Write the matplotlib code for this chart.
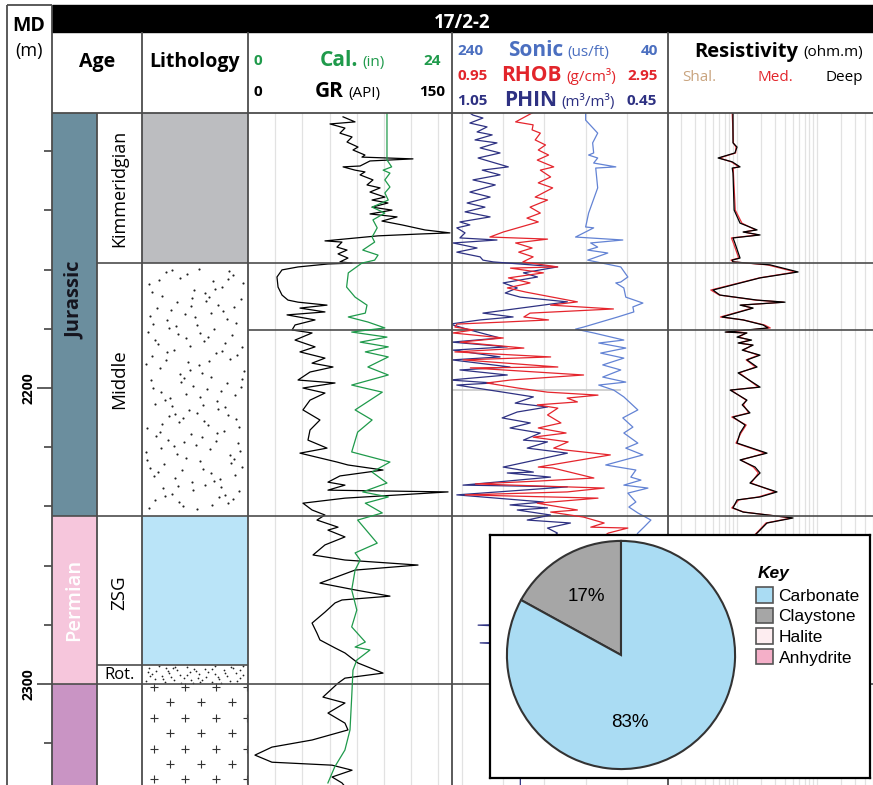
import numpy as np
import matplotlib
matplotlib.use("Agg")
import matplotlib.pyplot as plt
from matplotlib.patches import Patch, Rectangle
from matplotlib.ticker import MultipleLocator

plt.rcParams['font.family'] = ['Open Sans', 'DejaVu Sans']

# depth window and tops (m MD)
TOP, BOT = 2107.1, 2334.1
KIM_BASE = 2157.8
MID_LINE = 2180.4
JUR_BASE = 2243.2
ZSG_BASE = 2293.6
PERM_BASE = 2300.0

# GR (API)
gr_depth = [2108.4, 2110.1, 2110.8, 2112.2, 2113.9, 2115.2, 2116.9, 2118.6, 2119.6, 2121.3,
            2122.0, 2122.6, 2123.3, 2125.0, 2125.3, 2126.4, 2127.0, 2128.0, 2129.7, 2131.4,
            2132.4, 2133.8, 2135.5, 2136.5, 2137.5, 2138.9, 2139.9, 2141.2, 2142.2, 2143.6,
            2144.9, 2146.6, 2147.6, 2148.0, 2148.6, 2150.3, 2150.7, 2152.4, 2153.4, 2154.7,
            2156.1, 2157.4, 2157.8, 2158.1, 2159.1, 2160.1, 2162.5, 2165.9, 2168.6, 2170.3,
            2171.0, 2172.0, 2173.0, 2174.3, 2175.3, 2177.0, 2178.7, 2180.4, 2181.4, 2183.8,
            2186.1, 2187.8, 2189.9, 2191.6, 2192.9, 2194.6, 2197.3, 2198.3, 2200.0, 2201.7,
            2204.1, 2207.4, 2210.8, 2214.2, 2217.6, 2220.3, 2222.0, 2225.0, 2226.0, 2227.7,
            2229.7, 2231.8, 2232.8, 2234.5, 2235.1, 2237.2, 2238.9, 2241.2, 2242.9, 2244.6,
            2247.0, 2248.0, 2250.3, 2253.0, 2256.4, 2258.1, 2259.8, 2261.5, 2265.9, 2268.2,
            2270.3, 2271.6, 2272.6, 2275.7, 2279.4, 2282.8, 2285.1, 2287.8, 2289.5, 2292.9,
            2296.3, 2298.0, 2299.7, 2304.4, 2306.4, 2309.8, 2313.2, 2315.5, 2318.9, 2321.3,
            2324.0, 2326.4, 2327.4, 2329.1, 2331.4, 2333.4, 2335.0]
gr = [69.9, 78.7, 60.3, 71.3, 67.6, 76.5, 72.8, 80.9, 77.2, 86.0,
      83.8, 121.3, 89.7, 82.4, 69.9, 78.7, 86.0, 82.4, 91.9, 87.5,
      97.1, 89.7, 100.7, 91.2, 102.9, 91.2, 105.9, 89.7, 109.6, 98.5,
      113.2, 130.1, 148.5, 125.0, 95.6, 56.6, 69.1, 65.4, 72.8, 66.2,
      73.5, 67.6, 76.5, 58.8, 36.8, 25.0, 21.3, 22.1, 25.0, 29.4,
      36.8, 58.1, 38.2, 56.6, 28.7, 49.3, 34.6, 32.4, 47.1, 34.6,
      49.3, 38.2, 56.6, 47.1, 62.5, 45.6, 36.8, 64.0, 40.4, 56.6,
      45.6, 40.4, 52.9, 45.6, 44.1, 58.1, 38.2, 65.4, 73.5, 99.3,
      67.6, 58.8, 71.3, 58.8, 147.1, 71.3, 40.4, 47.1, 56.6, 50.7,
      66.2, 58.8, 71.3, 56.6, 47.8, 71.3, 125.0, 78.7, 52.9, 78.7,
      104.4, 69.1, 64.0, 56.6, 47.1, 50.7, 52.9, 64.0, 71.3, 80.9,
      99.3, 71.3, 66.2, 55.1, 71.3, 58.8, 71.3, 73.5, 47.1, 17.6,
      5.1, 17.6, 61.8, 76.5, 61.8, 69.1, 72.0]

# caliper (in)
cal_depth = [2107.1, 2123.0, 2123.6, 2125.3, 2126.4, 2127.4, 2129.7, 2132.1, 2134.1, 2136.5,
             2138.9, 2140.9, 2143.2, 2145.9, 2149.0, 2150.7, 2153.4, 2155.1, 2156.8, 2157.8,
             2161.1, 2165.9, 2169.3, 2172.0, 2174.7, 2176.0, 2177.7, 2179.7, 2181.1, 2182.8,
             2184.5, 2186.1, 2187.8, 2189.5, 2192.9, 2195.6, 2199.0, 2201.4, 2207.4, 2210.8,
             2214.9, 2221.6, 2225.0, 2228.4, 2232.1, 2235.1, 2236.8, 2238.9, 2242.2, 2244.6,
             2252.4, 2255.7, 2258.1, 2261.5, 2268.2, 2275.0, 2280.7, 2285.8, 2287.5, 2288.5,
             2291.9, 2295.3, 2304.4, 2315.5, 2322.3, 2328.0, 2333.4]
cal = [16.35, 16.35, 16.5, 16.9, 15.9, 16.7, 16.1, 16.7, 16.1, 16.5,
       14.6, 16.1, 14.7, 15.2, 14.6, 14.9, 13.5, 15.3, 14.9, 13.4,
       11.8, 11.6, 12.6, 14.0, 13.8, 11.8, 14.1, 16.1, 12.2, 16.35,
       13.2, 16.5, 13.8, 16.5, 14.1, 16.5, 12.2, 15.8, 12.6, 14.6,
       12.9, 12.2, 16.7, 14.6, 16.35, 13.5, 16.5, 13.8, 15.8, 12.9,
       15.2, 12.6, 13.2, 12.6, 12.2, 12.8, 12.2, 13.8, 12.6, 14.35,
       12.8, 12.35, 12.2, 12.0, 11.4, 10.2, 9.4]

# sonic (us/ft)
dt_depth = [2107.1, 2109.5, 2113.9, 2117.2, 2120.6, 2121.3, 2122.3, 2124.0, 2125.3, 2125.7,
            2132.4, 2140.9, 2145.6, 2145.9, 2149.0, 2150.0, 2151.0, 2152.4, 2153.4, 2154.4,
            2156.8, 2159.1, 2162.5, 2164.2, 2164.5, 2166.2, 2169.3, 2171.3, 2172.6, 2174.3,
            2176.0, 2179.4, 2180.1, 2181.4, 2183.8, 2184.8, 2186.5, 2188.2, 2189.9, 2192.2,
            2193.9, 2196.3, 2198.0, 2199.0, 2200.7, 2203.0, 2207.4, 2210.1, 2213.2, 2215.2,
            2218.6, 2220.3, 2222.6, 2226.0, 2227.7, 2230.1, 2231.1, 2232.8, 2233.8, 2235.5,
            2238.5, 2240.2, 2242.2, 2244.6, 2247.0, 2249.0, 2253.0]
dt = [120.0, 120.0, 108.3, 113.2, 112.2, 117.1, 108.3, 112.2, 90.7, 110.2,
      108.3, 117.1, 120.0, 112.2, 129.8, 83.9, 115.1, 108.3, 118.0, 98.5,
      118.0, 85.9, 79.0, 85.9, 90.7, 82.9, 81.0, 64.4, 74.1, 73.2,
      88.8, 121.9, 129.8, 112.2, 82.9, 107.3, 81.0, 105.4, 82.9, 103.4,
      85.9, 103.4, 81.0, 107.3, 92.7, 82.9, 69.3, 83.9, 74.1, 82.9,
      69.3, 81.0, 64.4, 100.5, 71.2, 76.1, 66.3, 82.9, 59.5, 79.0,
      71.2, 78.0, 69.3, 56.6, 63.4, 69.3, 76.1]

# bulk density (g/cm3)
rho_depth = [2107.1, 2110.1, 2111.1, 2112.8, 2113.9, 2116.2, 2117.9, 2119.6, 2121.3, 2123.0,
             2125.3, 2126.4, 2128.7, 2130.7, 2132.4, 2135.5, 2136.5, 2138.9, 2140.9, 2142.6,
             2143.9, 2145.9, 2147.3, 2149.0, 2149.7, 2151.0, 2152.7, 2154.1, 2155.7, 2157.4,
             2159.1, 2159.5, 2161.1, 2162.8, 2164.5, 2166.2, 2167.6, 2170.9, 2172.0, 2173.3,
             2174.7, 2176.0, 2177.0, 2177.7, 2178.4, 2179.4, 2180.4, 2181.4, 2183.1, 2184.5,
             2186.5, 2187.8, 2189.5, 2190.5, 2192.9, 2193.2, 2195.6, 2197.3, 2198.3, 2200.0,
             2201.4, 2202.4, 2203.4, 2204.7, 2205.7, 2206.8, 2209.1, 2211.8, 2213.5, 2215.2,
             2216.6, 2218.2, 2220.3, 2220.9, 2222.6, 2226.7, 2227.0, 2230.4, 2231.4, 2232.4,
             2233.8, 2235.1, 2236.1, 2237.2, 2238.9, 2241.2, 2241.9, 2243.6, 2245.6, 2247.0,
             2247.3, 2249.0, 2253.0]
rho = [1.63, 1.47, 1.64, 1.63, 1.71, 1.66, 1.76, 1.69, 1.79, 1.68,
       1.84, 1.71, 1.81, 1.69, 1.83, 1.66, 1.78, 1.61, 1.71, 1.58,
       1.69, 1.49, 1.35, 1.22, 1.78, 1.47, 1.63, 1.50, 1.64, 1.54,
       1.88, 1.42, 1.74, 1.40, 1.61, 1.39, 1.57, 2.07, 1.81, 2.42,
       1.61, 1.55, 1.79, 1.37, 0.90, 0.88, 1.06, 0.86, 1.35, 0.93,
       1.55, 0.88, 1.81, 0.96, 1.88, 1.03, 2.13, 1.42, 1.19, 1.49,
       1.78, 2.27, 1.97, 2.07, 1.68, 1.88, 1.78, 1.91, 1.69, 1.96,
       1.64, 1.98, 1.84, 1.94, 2.39, 1.69, 1.83, 2.23, 1.71, 1.08,
       2.33, 1.97, 0.98, 2.27, 1.68, 2.07, 1.81, 2.13, 2.33, 2.20,
       2.56, 2.37, 2.20]

# neutron porosity (m3/m3)
phi_depth = [2107.1, 2107.8, 2108.8, 2110.5, 2111.8, 2113.5, 2114.5, 2116.2, 2117.2, 2118.9,
             2120.6, 2122.3, 2125.3, 2126.4, 2128.0, 2129.7, 2131.4, 2133.8, 2135.5, 2137.5,
             2138.9, 2140.5, 2142.2, 2143.9, 2144.9, 2145.9, 2147.6, 2149.3, 2150.0, 2151.0,
             2152.7, 2154.1, 2155.7, 2156.8, 2157.4, 2159.1, 2160.1, 2161.1, 2162.5, 2164.5,
             2166.2, 2167.9, 2169.3, 2170.9, 2174.7, 2176.0, 2177.0, 2178.4, 2180.4, 2183.1,
             2184.5, 2186.1, 2187.2, 2189.5, 2190.5, 2192.9, 2193.9, 2195.6, 2197.3, 2198.3,
             2199.0, 2201.4, 2203.0, 2205.1, 2206.4, 2208.1, 2210.1, 2211.8, 2213.5, 2215.2,
             2217.6, 2218.2, 2220.3, 2222.0, 2226.7, 2228.4, 2228.7, 2230.1, 2232.8, 2233.4,
             2236.1, 2238.5, 2239.5, 2240.5, 2241.2, 2242.9, 2244.6, 2245.6, 2247.3, 2249.0,
             2258.1, 2271.6, 2279.7, 2280.1, 2280.7, 2285.8, 2286.1, 2286.8, 2305.4, 2335.0]
phi = [1.027, 1.018, 0.989, 1.027, 0.977, 1.006, 0.962, 1.012, 0.948, 0.997,
       0.939, 1.003, 0.915, 0.991, 0.939, 1.018, 0.953, 1.027, 0.968, 1.035,
       0.983, 1.041, 0.968, 1.056, 1.027, 1.065, 1.041, 1.056, 0.948, 1.076,
       1.006, 1.065, 0.997, 0.989, 0.959, 0.772, 0.822, 0.871, 0.830, 0.930,
       0.889, 0.924, 0.880, 0.743, 0.989, 0.901, 0.997, 1.085, 1.027, 0.939,
       1.079, 0.918, 1.076, 0.939, 1.079, 0.910, 1.056, 0.918, 1.085, 0.959,
       1.065, 0.930, 0.842, 0.895, 0.801, 0.889, 0.933, 0.851, 0.910, 0.822,
       0.871, 0.801, 0.860, 0.743, 0.930, 0.842, 0.918, 0.792, 1.047, 0.743,
       1.065, 0.813, 0.910, 0.801, 0.889, 0.792, 0.860, 0.734, 0.801, 0.772,
       0.880, 0.910, 0.880, 1.003, 0.880, 0.880, 0.997, 0.880, 0.880, 0.880]

# resistivity (ohm.m)
res_depth = [2107.1, 2117.2, 2118.6, 2120.6, 2122.3, 2123.6, 2125.3, 2125.7, 2127.4, 2139.9,
             2144.3, 2146.6, 2147.3, 2148.3, 2149.3, 2151.0, 2156.1, 2156.8, 2157.4, 2158.4,
             2160.8, 2162.8, 2166.9, 2168.6, 2170.3, 2171.0, 2172.0, 2173.0, 2176.0, 2177.0,
             2178.7, 2179.7, 2181.1, 2181.4, 2182.8, 2183.8, 2184.8, 2185.5, 2187.2, 2188.9,
             2190.5, 2192.9, 2194.9, 2199.7, 2200.7, 2204.1, 2205.7, 2208.4, 2209.8, 2212.5,
             2215.2, 2218.6, 2222.0, 2224.3, 2226.7, 2228.7, 2232.1, 2235.1, 2236.8, 2237.8,
             2240.5, 2241.9, 2243.9, 2245.6, 2248.0, 2249.7]
res_deep = [0.89, 0.89, 1.0, 0.94, 0.58, 0.87, 1.09, 0.87, 0.89, 0.92,
            1.09, 1.78, 1.19, 1.94, 0.89, 0.94, 1.09, 0.87, 0.89, 2.59,
            5.8, 1.94, 0.5, 0.61, 1.78, 3.98, 1.09, 1.59, 0.65, 1.19,
            2.11, 2.44, 0.71, 1.33, 1.0, 1.52, 1.03, 1.59, 1.16, 1.94,
            1.33, 1.78, 1.03, 1.94, 0.82, 1.33, 1.16, 1.45, 0.89, 1.26,
            1.09, 1.0, 2.37, 1.09, 1.68, 1.94, 1.45, 3.16, 1.94, 1.0,
            0.89, 1.19, 5.01, 2.37, 1.94, 1.68]
res_med = [0.87, 0.9, 0.97, 0.96, 0.6, 0.85, 1.05, 0.9, 0.9, 0.95,
           1.15, 1.7, 1.22, 1.85, 0.85, 0.9, 1.05, 0.84, 0.9, 2.4,
           5.4, 1.9, 0.47, 0.6, 1.7, 3.8, 1.12, 1.55, 0.62, 1.2,
           2.2, 2.6, 0.74, 1.3, 1.05, 1.45, 1.06, 1.55, 1.2, 1.85,
           1.3, 1.7, 1.07, 1.85, 0.84, 1.3, 1.2, 1.4, 0.86, 1.3,
           1.12, 0.97, 2.25, 1.12, 1.6, 1.85, 1.5, 3.0, 1.85, 1.05,
           0.86, 1.22, 4.8, 2.3, 1.9, 1.65]

# pie: ZSG lithology split
lith_names = ['Carbonate', 'Claystone', 'Halite', 'Anhydrite']
lith_colors = ['#aadcf3', '#a6a6a6', '#fdedf0', '#f4afc8']
pie_labels = ['Claystone', 'Carbonate']
pie_vals = [17, 83]

GREEN = '#1f9a4b'
SON_BLUE = '#4b6fc0'
RED = '#e2252b'
NAVY = '#2e3182'
TAN = '#c9a47f'
LINE = '#4d4d4d'
GRID = '#e2e2e2'

W, H = 873, 785
fig = plt.figure(figsize=(W / 100, H / 100), dpi=100)


def px_axes(x0, y0, x1, y1):
    return fig.add_axes([x0 / W, 1 - y1 / H, (x1 - x0) / W, (y1 - y0) / H])


def track(x0, x1):
    ax = px_axes(x0, 113, x1, H)
    ax.set_ylim(BOT, TOP)
    ax.set_xlim(0, 1)
    for s in ax.spines.values():
        s.set_visible(False)
    ax.set_xticks([])
    ax.tick_params(axis='both', which='both', length=0, labelleft=False, labelbottom=False)
    return ax


def twin(ax, lim):
    t = ax.twiny()
    t.set_xlim(*lim)
    for s in t.spines.values():
        s.set_visible(False)
    t.set_xticks([])
    t.tick_params(axis='x', which='both', length=0, labeltop=False)
    return t


def tops(ax, depths):
    for d in depths:
        ax.axhline(d, color=LINE, lw=1.2, zorder=5)


def halton(i, base):
    f, r = 1.0, np.zeros(len(i))
    i = i.copy()
    while np.any(i > 0):
        f /= base
        r += f * (i % base)
        i //= base
    return r


def speckle(ax, d0, d1, n, size, skip=20):
    # sand texture: Halton (2,3) dot layout
    i = np.arange(skip, skip + n)
    u, v = halton(i, 2), halton(i, 3)
    ax.scatter(0.03 + 0.94 * u, d0 + (d1 - d0) * (0.02 + 0.96 * v), s=size, c='#222', lw=0)


# era column + depth ticks
ax_era = track(52, 97)
ax_era.axhspan(TOP, JUR_BASE, color='#6b8e9e', lw=0)
ax_era.axhspan(JUR_BASE, PERM_BASE, color='#f6c6dc', lw=0)
ax_era.axhspan(PERM_BASE, BOT, color='#c994c4', lw=0)
tops(ax_era, [JUR_BASE, PERM_BASE])
ax_era.set_yticks([2200, 2300], labels=['2200', '2300'], fontsize=10,
                  fontweight='bold', rotation=90, va='center')
ax_era.yaxis.set_minor_locator(MultipleLocator(20))
ax_era.tick_params(axis='y', which='major', left=True, labelleft=True,
                   length=11, width=1.1, color='#333', pad=1)
ax_era.tick_params(axis='y', which='minor', left=True, length=6, width=1.1, color='#333')
yx = ax_era.get_yaxis_transform()
ax_era.text(0.5, 2170.5, 'Jurassic', rotation=90, ha='center', va='center',
            fontsize=14.5, fontweight='bold', color='#15151f', transform=yx)
ax_era.text(0.5, 2271.6, 'Permian', rotation=90, ha='center', va='center',
            fontsize=14.5, fontweight='semibold', color='white', transform=yx)

# stage column
ax_stg = track(97, 142)
tops(ax_stg, [KIM_BASE, JUR_BASE, ZSG_BASE, PERM_BASE])
sx = ax_stg.get_yaxis_transform()
ax_stg.text(0.5, (TOP + KIM_BASE) / 2, 'Kimmeridgian', rotation=90, ha='center',
            va='center', fontsize=13, transform=sx)
ax_stg.text(0.5, 2197, 'Middle', rotation=90, ha='center', va='center', fontsize=13.5, transform=sx)
ax_stg.text(0.5, 2269, 'ZSG', rotation=90, ha='center', va='center', fontsize=13.5, transform=sx)
ax_stg.text(0.5, (ZSG_BASE + PERM_BASE) / 2 + 0.3, 'Rot.', ha='center', va='center',
            fontsize=12, transform=sx)

# lithology column
ax_lit = track(142, 248)
ax_lit.axhspan(TOP, KIM_BASE, color='#bcbdc0', lw=0)
ax_lit.axhspan(JUR_BASE, ZSG_BASE, color='#bae4f8', lw=0)
speckle(ax_lit, KIM_BASE, JUR_BASE, 160, 2.4)
speckle(ax_lit, ZSG_BASE, PERM_BASE, 55, 1.6, skip=300)
rows = np.arange(PERM_BASE + 1.0, BOT + 2, 5.2)
for i, r in enumerate(rows):
    xs = np.arange(0.113 if i % 2 == 0 else 0.264, 1.01, 0.293)
    ax_lit.scatter(xs, np.full_like(xs, r), marker='+', s=40, c='#333', lw=0.8)
tops(ax_lit, [KIM_BASE, JUR_BASE, ZSG_BASE, PERM_BASE])

# GR / caliper track
ax_gr = track(248, 452)
ax_gr.set_xlim(0, 150)
ax_gr.set_xticks(np.arange(20, 150, 20))
ax_gr.grid(axis='x', color=GRID, lw=0.9)
ax_gr.plot(gr, gr_depth, color='black', lw=0.9)
ax_cal = twin(ax_gr, (0, 24))
ax_cal.plot(cal, cal_depth, color=GREEN, lw=0.9)
tops(ax_gr, [KIM_BASE, MID_LINE, JUR_BASE, PERM_BASE])

# sonic / density / neutron track
ax_son = track(452, 668)
ax_son.set_xlim(249.8, 40)
ax_son.set_xticks([240, 200, 160, 120, 80])
ax_son.grid(axis='x', color=GRID, lw=0.9)
ax_son.axhline(2200.7, xmin=0, xmax=0.78, color='#c8c8c8', lw=1.2)
ax_son.plot(dt, dt_depth, color='#6383d4', lw=0.9)
ax_phi = twin(ax_son, (1.079, 0.45))
ax_phi.plot(phi, phi_depth, color=NAVY, lw=0.9)
ax_rho = twin(ax_son, (0.852, 2.95))
ax_rho.plot(rho, rho_depth, color='#e5252d', lw=0.9)
tops(ax_son, [KIM_BASE, MID_LINE, JUR_BASE, PERM_BASE])

# resistivity track
ax_res = track(668, 873)
ax_res.set_xscale('log')
ax_res.set_xlim(0.137, 50.1)
ax_res.grid(axis='x', which='both', color=GRID, lw=0.9)
ax_res.tick_params(axis='x', which='both', length=0, labelbottom=False)
ax_res.plot(res_med, res_depth, color='#e8303a', lw=0.9)
ax_res.plot(res_deep, res_depth, color='black', lw=0.9)
tops(ax_res, [KIM_BASE, MID_LINE, JUR_BASE, PERM_BASE])

# header + frame overlay (pixel coordinates)
ov = fig.add_axes([0, 0, 1, 1], zorder=5)
ov.set_xlim(0, W)
ov.set_ylim(H, 0)
ov.axis('off')
ov.add_patch(Rectangle((52, 5), W - 52, 27, color='black'))
ov.vlines([7, 52], 5, H, color=LINE, lw=1.3)
ov.hlines(5, 7, 52, color=LINE, lw=1.3)
ov.vlines([142, 248, 452, 668], 32, H, color=LINE, lw=1.3)
ov.vlines(97, 113, H, color=LINE, lw=1.3)
ov.hlines(113, 52, W, color=LINE, lw=1.3)

ov.text(462, 28, '17/2-2', ha='center', va='baseline', fontsize=13.5, fontweight='bold', color='white')
ov.text(29, 31, 'MD', ha='center', va='baseline', fontsize=14, fontweight='bold')
ov.text(29, 56, '(m)', ha='center', va='baseline', fontsize=13)
ov.text(97, 67, 'Age', ha='center', va='baseline', fontsize=14, fontweight='bold')
ov.text(195, 67, 'Lithology', ha='center', va='baseline', fontsize=14, fontweight='bold')


def head(x_left, x_name, x_right, base, lo, name, unit, hi, color, big=15):
    ov.text(x_left, base - 1, lo, ha='left', va='baseline', fontsize=11, fontweight='bold', color=color)
    ov.text(x_name, base, name, ha='right', va='baseline', fontsize=big, fontweight='bold', color=color)
    ov.text(x_name + 4, base, unit, ha='left', va='baseline', fontsize=11, color=color)
    ov.text(x_right, base - 1, hi, ha='right', va='baseline', fontsize=11, fontweight='bold', color=color)


head(253, 358, 441, 66, '0', 'Cal.', '(in)', '24', GREEN)
head(253, 344, 445, 97, '0', 'GR', '(API)', '150', 'black')
head(457, 563, 658, 56, '240', 'Sonic', '(us/ft)', '40', SON_BLUE)
head(457, 562, 658, 81, '0.95', 'RHOB', '(g/cm³)', '2.95', RED)
head(457, 557, 657, 106, '1.05', 'PHIN', '(m³/m³)', '0.45', NAVY)
ov.text(798, 57, 'Resistivity', ha='right', va='baseline', fontsize=14.5, fontweight='bold')
ov.text(803, 56, '(ohm.m)', ha='left', va='baseline', fontsize=11)
ov.text(682, 81, 'Shal.', ha='left', va='baseline', fontsize=11, color=TAN)
ov.text(775, 81, 'Med.', ha='center', va='baseline', fontsize=11, color=RED)
ov.text(863, 81, 'Deep', ha='right', va='baseline', fontsize=11, color='black')

# inset: ZSG lithology pie
box = px_axes(490, 535, 870, 778)
box.set_zorder(10)
box.set_xticks([])
box.set_yticks([])
for s in box.spines.values():
    s.set_linewidth(1.6)
    s.set_color('black')
box.text(0.705, 0.8436, 'Key', transform=box.transAxes, ha='left', va='center',
         family='Liberation Sans', fontsize=12.5, fontweight='bold', fontstyle='italic')
handles = [Patch(facecolor=c, edgecolor='#555', lw=1.2, label=n) for n, c in zip(lith_names, lith_colors)]
box.legend(handles=handles, loc='upper left', bbox_to_anchor=(0.7, 0.785),
           frameon=False, prop={'family': 'Liberation Sans', 'size': 12.5},
           handlelength=1.0, handleheight=1.0, handletextpad=0.3, labelspacing=0.22,
           borderaxespad=0, borderpad=0)

pax = px_axes(503.5, 537.5, 738.5, 772.5)
pax.set_zorder(11)
pie_colors = [lith_colors[lith_names.index(n)] for n in pie_labels]
wedges, _, pct = pax.pie(pie_vals, colors=pie_colors, startangle=90, autopct='%d%%',
                         pctdistance=0.6, wedgeprops=dict(edgecolor='#333', lw=1.5),
                         textprops=dict(family='Liberation Sans', size=13.5))
pax.set_xlim(-1.03, 1.03)
pax.set_ylim(-1.03, 1.03)
pct[1].set_position((0.08, -0.59))

fig.savefig('out.png', dpi=100)
